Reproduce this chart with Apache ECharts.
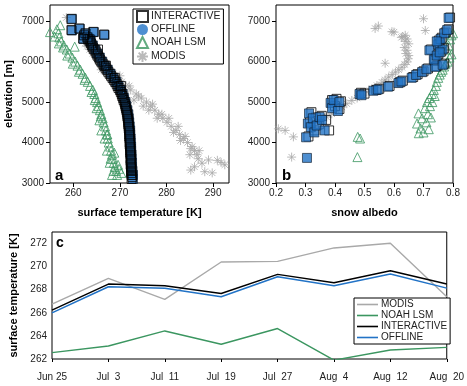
<!DOCTYPE html>
<html>
<head>
<meta charset="utf-8">
<script src="https://cdn.jsdelivr.net/npm/echarts@6/dist/echarts.min.js"></script>
<style>
  html, body { margin: 0; padding: 0; background: #fff; }
  #chart { width: 467px; height: 386px; }
</style>
</head>
<body>
<div id="chart"></div>
<script>
// panel a: [surface temperature K, elevation m]
var aInteractive = [
  [272.5,3100],[272.5,3200],[272.4,3300],[272.4,3400],[272.4,3500],[272.3,3600],[272.3,3700],[272.2,3800],
  [272.2,3900],[272.1,4000],[272.1,4100],[272.0,4200],[272.0,4300],[271.9,4400],[271.8,4500],[271.7,4600],
  [271.6,4700],[271.4,4800],[271.2,4900],[271.0,5000],[270.7,5100],[270.4,5200],[270.0,5300],[269.5,5400],
  [269.0,5500],[268.4,5600],[267.8,5700],[267.2,5800],[266.6,5900],[266.0,6000],[265.5,6100],[265.0,6200],
  [264.5,6300],[264.0,6400],[263.5,6500],[263.0,6600],[262.3,6650],[263.5,6550],[259.6,7050],[259.6,6780],
  [261.3,6820],[262.6,6700],[264.3,6736],[266.6,6670],[262.1,6570],
  [272.6,3150],[272.4,3250],[272.5,3350],[272.3,3450],[272.3,3550],[272.4,3650],[272.2,3750],[272.3,3850],
  [272.1,3950],[272.2,4050],[272.0,4150],[272.1,4250],[271.9,4350],[271.8,4450],[271.8,4550],[271.6,4650],
  [271.5,4750],[271.3,4850],[271.1,4950],[270.8,5050],[270.5,5150],[270.2,5250],[269.7,5350],[269.3,5450],
  [268.7,5550],[268.1,5650],[267.5,5750],[266.9,5850],[266.3,5950],[265.7,6050],[265.2,6150],[264.8,6250],
  [264.2,6350],[263.8,6450],[263.2,6550],[268.9,5600],[267.0,5900],[265.3,6300],[270.2,5400]
];
var aOffline = [
  [272.8,3100],[272.8,3200],[272.7,3300],[272.6,3400],[272.6,3500],[272.5,3600],[272.5,3700],[272.4,3800],
  [272.4,3900],[272.3,4000],[272.3,4100],[272.2,4200],[272.2,4300],[272.1,4400],[272.0,4500],[271.9,4600],
  [271.8,4700],[271.6,4800],[271.4,4900],[271.2,5000],[270.9,5100],[270.6,5200],[270.2,5300],[269.7,5400],
  [269.2,5500],[268.6,5600],[268.0,5700],[267.4,5800],[266.8,5900],[266.2,6000],[265.7,6100],[265.2,6200],
  [264.7,6300],[264.2,6400],[263.7,6500],[263.2,6600],[262.5,6650],[263.7,6550],[259.7,7060],[259.7,6770],
  [261.4,6810],[262.7,6690],[264.4,6730],[266.7,6660],[262.2,6560]
];
var aNoah = [
  [269.4,3200],[269.2,3300],[268.9,3400],[268.7,3500],[268.5,3600],[268.3,3700],[268.1,3800],[267.9,3900],
  [267.6,4000],[267.4,4100],[267.2,4200],[267.0,4300],[266.8,4400],[266.5,4500],[266.3,4600],[266.0,4700],
  [265.7,4800],[265.4,4900],[265.1,5000],[264.8,5100],[264.5,5200],[264.2,5300],[263.6,5400],[263.1,5500],
  [262.6,5600],[262.0,5700],[261.5,5800],[260.9,5900],[260.4,6000],[259.8,6100],[259.2,6200],[258.6,6300],
  [258.0,6400],[257.4,6500],[257.0,6600],[256.8,6700],[256.5,6800],[257.2,6900],[255.0,6730],[256.0,6620],
  [260.3,6370],[268.0,3600],[269.8,3350],[270.3,3250],[268.3,3200],[267.2,3800],[266.0,4300],[268.8,3750],
  [267.3,4200],[269.6,3450],[265.6,4550],[264.6,5050],[268.6,3300],[267.8,3500],[266.7,4100],[265.9,4650],
  [265.0,4850],[263.9,5250],[262.4,5550],[261.2,5750],[259.9,5950],[258.7,6150],[257.8,6350],[256.9,6450]
];
var aModis = [
  [263.5,6300],[264.2,6200],[264.9,6100],[265.6,6000],[266.6,5900],[267.5,5800],[268.5,5700],[269.4,5600],
  [270.4,5500],[271.3,5400],[272.3,5300],[273.5,5200],[274.6,5100],[275.7,5000],[276.6,4900],[277.5,4800],
  [278.3,4700],[279.2,4600],[280.1,4500],[281.0,4400],[282.0,4300],[282.8,4200],[283.6,4100],[284.5,4000],
  [285.5,3900],[286.0,3800],[286.5,3700],[285.2,3320],[286.0,3400],[287.6,3490],[289.0,3570],[290.9,3560],
  [291.7,3510],[289.8,3250],[288.2,3280],[292.5,3450],[286.8,3600],[258.5,7090],[262.5,6450],[263.0,6380],
  [268.0,5750],[272.0,5400],[277.0,4950],[280.5,4600],[284.0,4150],[285.2,3850],[274.0,5150],[279.0,4700],
  [266.0,5800],[269.0,5500],[271.0,5250],[273.0,5050],[275.0,4900],[278.0,4600],[281.5,4250],[283.0,4050],
  [285.0,3700],[287.0,3800],[270.0,5650],[276.2,4800],[282.5,4400]
];

// panel b: [snow albedo, elevation m]
var bOffline = [
  [0.305,3620],[0.302,4130],[0.308,4470],[0.312,4720],[0.318,4380],[0.325,4600],[0.33,4250],[0.338,4420],
  [0.348,4630],[0.356,4560],[0.365,4300],[0.385,4980],[0.39,4850],[0.395,5050],[0.41,4780],[0.415,5000],
  [0.483,5200],[0.49,5170],[0.53,5280],[0.545,5310],[0.58,5380],[0.615,5470],[0.625,5510],[0.66,5600],
  [0.675,5670],[0.695,5740],[0.71,5810],[0.74,5870],[0.72,6280],[0.735,6050],[0.745,6150],[0.75,6420],
  [0.758,6560],[0.765,6300],[0.77,6700],[0.78,6780],[0.785,7080],[0.765,5920],[0.755,6230],[0.745,6500]
];
var bInteractive = [
  [0.31,4150],[0.315,4500],[0.32,4750],[0.33,4300],[0.335,4620],[0.345,4450],[0.355,4660],[0.37,4560],
  [0.38,4300],[0.39,5050],[0.4,4900],[0.405,5080],[0.415,4830],[0.42,5020],[0.488,5230],[0.5,5210],
  [0.54,5300],[0.55,5330],[0.585,5400],[0.62,5490],[0.63,5530],[0.665,5620],[0.68,5690],[0.7,5760],
  [0.715,5830],[0.745,5890],[0.725,6300],[0.74,6070],[0.75,6180],[0.755,6450],[0.762,6590],[0.77,6330],
  [0.775,6720],[0.785,6800],[0.79,7090],[0.77,5950],[0.76,6250],[0.752,6520],[0.738,6020]
];
var bNoah = [
  [0.476,3640],[0.477,4140],[0.485,4100],[0.683,4720],[0.678,4470],[0.684,4230],[0.69,4350],[0.695,4600],
  [0.7,4250],[0.705,4850],[0.71,4500],[0.712,5000],[0.715,4700],[0.718,4330],[0.72,5100],[0.722,4900],
  [0.725,4620],[0.728,5200],[0.73,5000],[0.735,5300],[0.738,5150],[0.742,5400],[0.745,5500],[0.75,5600],
  [0.755,5680],[0.76,5750],[0.765,5800],[0.77,5880],[0.775,5950],[0.782,6000],[0.788,6100],[0.795,6180],
  [0.8,6700],[0.795,6650],[0.79,6550],[0.785,6400],[0.78,6300]
];
var bModis = [
  [0.208,4340],[0.231,4300],[0.259,4140],[0.253,3640],[0.355,4550],[0.372,4630],[0.389,4710],[0.405,4800],
  [0.423,4880],[0.44,4960],[0.457,5040],[0.475,5100],[0.491,5160],[0.508,5250],[0.525,5330],[0.542,5410],
  [0.559,5490],[0.57,5550],[0.582,5620],[0.594,5680],[0.605,5740],[0.616,5800],[0.627,5860],[0.636,5930],
  [0.644,5990],[0.648,6070],[0.65,6150],[0.64,6200],[0.644,6280],[0.635,6350],[0.65,6440],[0.638,6500],
  [0.644,6560],[0.63,6620],[0.638,6650],[0.625,6600],[0.57,5960],[0.6,6730],[0.536,6820],[0.547,6880],
  [0.7,7060],[0.706,6770],[0.593,6740]
];

// panel c: 8-day surface temperature
var dates = ["Jun 25", "Jul  3", "Jul  11", "Jul  19", "Jul  27", "Aug  4", "Aug  12", "Aug  20"];
var cModis = [266.75, 268.99, 267.16, 270.4, 270.46, 271.62, 272.03, 267.4];
var cNoah = [262.55, 263.13, 264.43, 263.28, 264.64, 261.9, 262.78, 263.01];
var cInteractive = [266.23, 268.49, 268.35, 267.68, 269.33, 268.61, 269.65, 268.49];
var cOffline = [266.0, 268.26, 268.12, 267.39, 269.13, 268.35, 269.36, 268.14];

var tempTicks = [260, 270, 280, 290];
var albedoTicks = [0.2, 0.3, 0.4, 0.5, 0.6, 0.7, 0.8];
var elevTicks = [3000, 4000, 5000, 6000, 7000];
var cTempTicks = [262, 264, 266, 268, 270, 272];

var BLUE = "#2273c6", GREEN = "#3b9660", GRAY = "#a9a9a9";
var FONT = "Liberation Sans";
var star = "path://M0,5L10,5M5,0L5,10M1.5,1.5L8.5,8.5M8.5,1.5L1.5,8.5";
var plain = function (v) { return String(v); };

function axisBase(extra) {
  var o = {
    type: "value",
    axisLine: { show: false },
    splitLine: { show: false },
    nameTextStyle: { color: "#000", fontSize: 11, fontWeight: "bold", fontFamily: FONT }
  };
  for (var k in extra) o[k] = extra[k];
  return o;
}
function ticks(vals, len) {
  return { show: len > 0, length: len, customValues: vals, lineStyle: { color: "#000" } };
}
function labels(vals, margin) {
  return { color: "#222", fontSize: 10, fontFamily: FONT, margin: margin, customValues: vals, formatter: plain };
}

var myChart = echarts.init(document.getElementById("chart"), null, { renderer: "canvas" });
myChart.setOption({
  animation: false,
  backgroundColor: "#fff",
  grid: [
    { left: 50, top: 5, width: 179, height: 178, show: true, borderColor: "#000", borderWidth: 1 },
    { left: 276, top: 5, width: 177, height: 178, show: true, borderColor: "#000", borderWidth: 1 },
    { left: 50, top: 232, width: 405, height: 127, show: true, borderColor: "#000", borderWidth: 1 }
  ],
  xAxis: [
    axisBase({ gridIndex: 0, min: 255, max: 293.4, axisTick: ticks(tempTicks, 4), axisLabel: labels(tempTicks, 5),
      name: "surface temperature [K]", nameLocation: "middle", nameGap: 24 }),
    axisBase({ gridIndex: 1, min: 0.2, max: 0.8, axisTick: ticks(albedoTicks, 4), axisLabel: labels(albedoTicks, 5),
      name: "snow albedo", nameLocation: "middle", nameGap: 24 }),
    { type: "category", gridIndex: 2, data: dates, boundaryGap: false,
      axisLine: { show: false }, splitLine: { show: false },
      axisTick: { show: true, length: 3, alignWithLabel: true, lineStyle: { color: "#000" } },
      axisLabel: { color: "#222", fontSize: 10, fontFamily: FONT, margin: 13, interval: 0 } }
  ],
  yAxis: [
    axisBase({ gridIndex: 0, min: 3000, max: 7400, axisTick: ticks(elevTicks, 4), axisLabel: labels(elevTicks, 6),
      name: "elevation [m]", nameLocation: "middle", nameGap: 36 }),
    axisBase({ gridIndex: 1, min: 3000, max: 7400, axisTick: ticks(elevTicks, 4), axisLabel: labels(elevTicks, 6) }),
    axisBase({ gridIndex: 2, min: 262, max: 273, axisTick: ticks(cTempTicks, 0), axisLabel: labels(cTempTicks, 5),
      name: "surface temperature [K]", nameLocation: "middle", nameGap: 33 })
  ],
  legend: [
    {
      left: 133, top: 9, orient: "vertical", itemGap: 1, itemWidth: 11, itemHeight: 11,
      padding: [1, 3, 1, 3], borderColor: "#000", borderWidth: 1, backgroundColor: "#fff",
      textStyle: { fontSize: 10.5, fontFamily: FONT, color: "#222", padding: [0, 0, 0, -2] },
      data: [
        { name: "INTERACTIVE" },
        { name: "OFFLINE", icon: "circle", itemStyle: { color: BLUE, borderWidth: 0 } },
        { name: "NOAH LSM" },
        { name: "MODIS" }
      ]
    },
    {
      left: 354, top: 298, orient: "vertical", itemGap: 0, itemWidth: 21, itemHeight: 1.6, icon: "rect",
      padding: [1, 3, 1, 3], borderColor: "#000", borderWidth: 1, backgroundColor: "#fff",
      textStyle: { fontSize: 10, fontFamily: FONT, color: "#222", padding: [0, 0, 0, -2], lineHeight: 11 },
      formatter: function (n) { return n.slice(2); },
      data: ["c MODIS", "c NOAH LSM", "c INTERACTIVE", "c OFFLINE"]
    }
  ],
  series: [
    { name: "MODIS", type: "scatter", xAxisIndex: 0, yAxisIndex: 0, data: aModis, symbol: star, symbolSize: 9,
      itemStyle: { color: "rgba(0,0,0,0)", borderColor: GRAY, borderWidth: 1 } },
    { name: "NOAH LSM", type: "scatter", xAxisIndex: 0, yAxisIndex: 0, data: aNoah, symbol: "triangle", symbolSize: 9,
      itemStyle: { color: "rgba(0,0,0,0)", borderColor: GREEN, borderWidth: 1 } },
    { name: "OFFLINE", type: "scatter", xAxisIndex: 0, yAxisIndex: 0, data: aOffline, symbol: "rect", symbolSize: 9,
      itemStyle: { color: BLUE, borderColor: "#0d1b2a", borderWidth: 0.8 } },
    { name: "INTERACTIVE", type: "scatter", xAxisIndex: 0, yAxisIndex: 0, data: aInteractive, symbol: "rect", symbolSize: 9,
      itemStyle: { color: "rgba(0,0,0,0)", borderColor: "#000", borderWidth: 1 } },

    { name: "MODIS", type: "scatter", xAxisIndex: 1, yAxisIndex: 1, data: bModis, symbol: star, symbolSize: 9,
      itemStyle: { color: "rgba(0,0,0,0)", borderColor: GRAY, borderWidth: 1 } },
    { name: "NOAH LSM", type: "scatter", xAxisIndex: 1, yAxisIndex: 1, data: bNoah, symbol: "triangle", symbolSize: 9,
      itemStyle: { color: "rgba(0,0,0,0)", borderColor: GREEN, borderWidth: 1 } },
    { name: "INTERACTIVE", type: "scatter", xAxisIndex: 1, yAxisIndex: 1, data: bInteractive, symbol: "rect", symbolSize: 9,
      itemStyle: { color: "rgba(0,0,0,0)", borderColor: "#000", borderWidth: 1 } },
    { name: "OFFLINE", type: "scatter", xAxisIndex: 1, yAxisIndex: 1, data: bOffline, symbol: "rect", symbolSize: 9,
      itemStyle: { color: BLUE, borderColor: "#0d1b2a", borderWidth: 0.8 } },

    { name: "c MODIS", type: "line", xAxisIndex: 2, yAxisIndex: 2, data: cModis, symbol: "none",
      lineStyle: { color: GRAY, width: 1.4 }, itemStyle: { color: GRAY } },
    { name: "c NOAH LSM", type: "line", xAxisIndex: 2, yAxisIndex: 2, data: cNoah, symbol: "none",
      lineStyle: { color: GREEN, width: 1.4 }, itemStyle: { color: GREEN } },
    { name: "c INTERACTIVE", type: "line", xAxisIndex: 2, yAxisIndex: 2, data: cInteractive, symbol: "none",
      lineStyle: { color: "#000", width: 1.5 }, itemStyle: { color: "#000" } },
    { name: "c OFFLINE", type: "line", xAxisIndex: 2, yAxisIndex: 2, data: cOffline, symbol: "none",
      lineStyle: { color: BLUE, width: 1.5 }, itemStyle: { color: BLUE } }
  ],
  graphic: [
    { type: "text", left: 55, top: 168, style: { text: "a", fontSize: 15, fontWeight: "bold", fontFamily: FONT, fill: "#000" } },
    { type: "text", left: 282, top: 168, style: { text: "b", fontSize: 15, fontWeight: "bold", fontFamily: FONT, fill: "#000" } },
    { type: "text", left: 56, top: 236, style: { text: "c", fontSize: 14, fontWeight: "bold", fontFamily: FONT, fill: "#000" } }
  ]
});
</script>
</body>
</html>
